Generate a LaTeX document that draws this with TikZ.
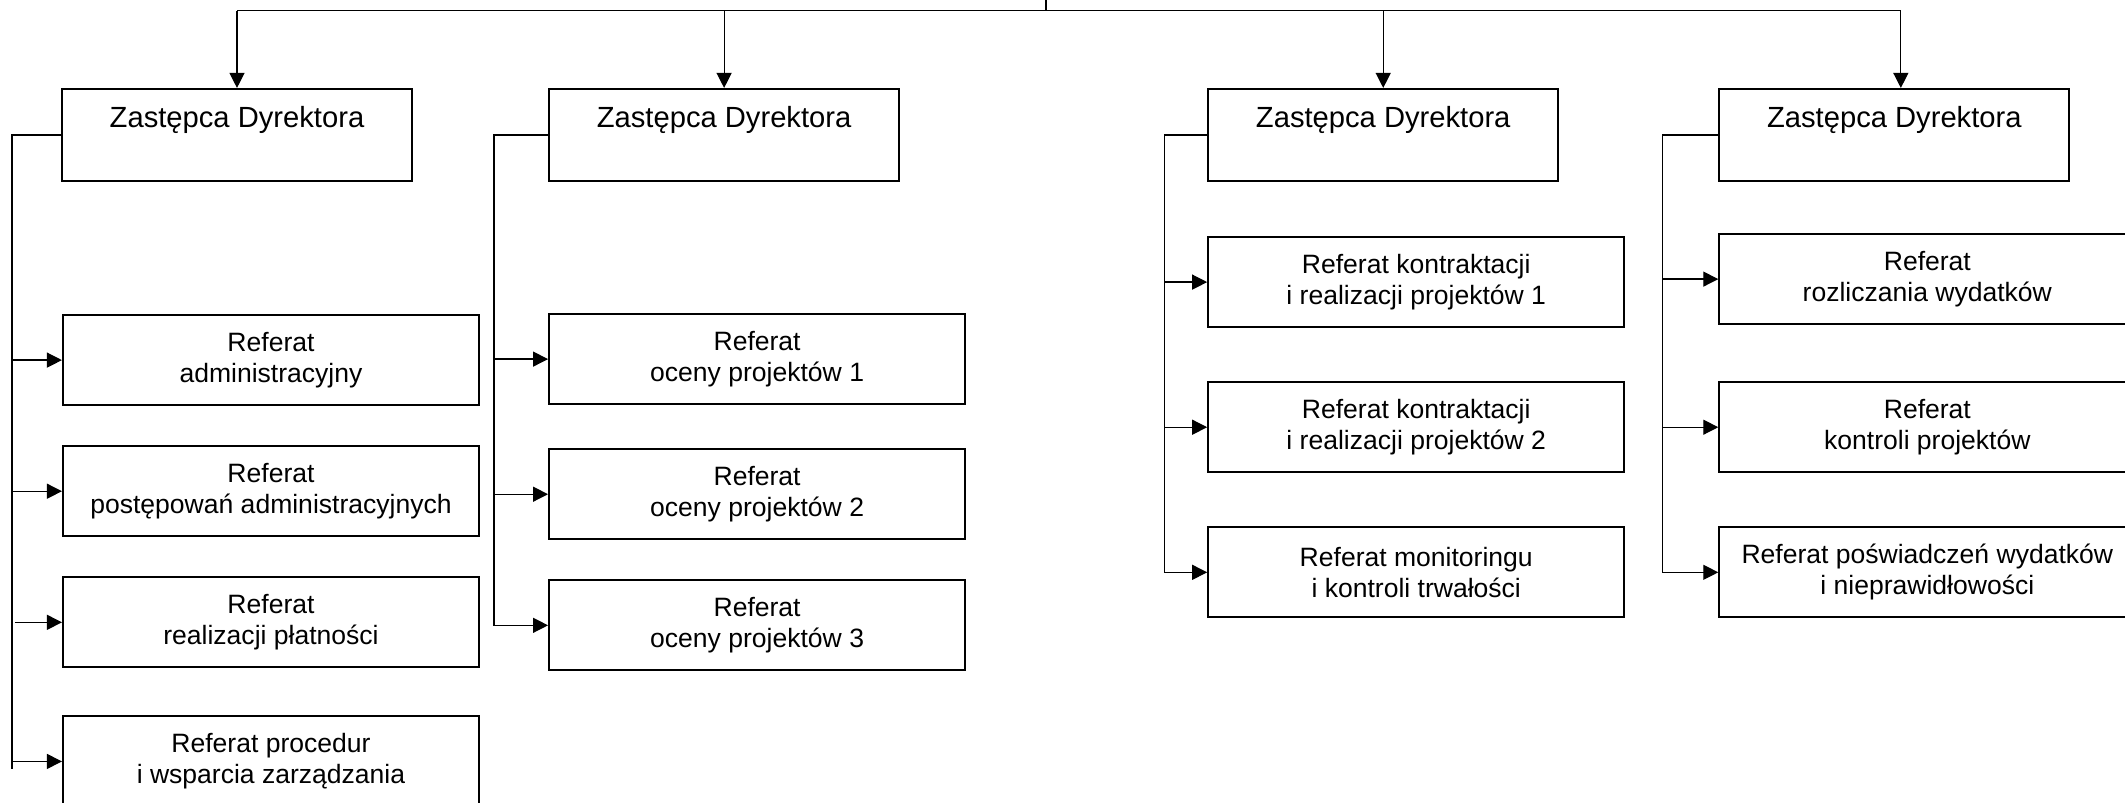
\documentclass[tikz,border=0pt]{standalone}
\usepackage{fontspec}
\setmainfont{Liberation Sans}
\usetikzlibrary{positioning, arrows.meta}

\begin{document}
\begin{tikzpicture}[box/.style = { draw, line width = 0.6pt, inner sep = 0pt, align = center },
    zd/.style = { box, minimum width = 3.50cm, minimum height = 0.92cm, text height = 0.21cm, text depth = 0.35cm, font = \fontsize{8.3}{9.5}\selectfont },
    ref/.style = { box, minimum width = 4.16cm, minimum height = 0.90cm, font = \fontsize{7.55}{8.8}\selectfont },
    line width = 0.35pt, >={Triangle[length = 1.5mm, width = 1.5mm]}]
    \useasboundingbox (0, 0) rectangle (21.25, -8.03);
    \clip (0, 0) rectangle (21.25, -8.03);

    \node[zd] (zd1) at (2.37, -1.35) {Zastępca Dyrektora};
    \node[zd, right = 1.35cm of zd1] (zd2) {Zastępca Dyrektora};
    \node[zd, right = 3.07cm of zd2] (zd3) {Zastępca Dyrektora};
    \node[zd, right = 1.59cm of zd3] (zd4) {Zastępca Dyrektora};

    \node[ref, below right = 1.32cm and 0.01cm of zd1.south west] (r11) {Referat\\administracyjny};
    \node[ref, below = 0.39cm of r11] (r12) {Referat\\postępowań administracyjnych};
    \node[ref, below = 0.39cm of r12] (r13) {Referat\\realizacji płatności};
    \node[ref, below = 0.47cm of r13] (r14) {Referat procedur\\i wsparcia zarządzania};

    \node[ref, below right = 1.31cm and 0cm of zd2.south west] (r21) {Referat\\oceny projektów 1};
    \node[ref, below = 0.43cm of r21] (r22) {Referat\\oceny projektów 2};
    \node[ref, below = 0.39cm of r22] (r23) {Referat\\oceny projektów 3};

    \node[ref, below right = 0.54cm and 0cm of zd3.south west] (r31) {Referat kontraktacji\\i realizacji projektów 1};
    \node[ref, below = 0.53cm of r31] (r32) {Referat kontraktacji\\i realizacji projektów 2};
    \node[ref, below = 0.53cm of r32] (r33) {Referat monitoringu\\i kontroli trwałości};

    \node[ref, below right = 0.51cm and 0cm of zd4.south west] (r41) {Referat\\rozliczania wydatków};
    \node[ref, below = 0.56cm of r41] (r42) {Referat\\kontroli projektów};
    \node[ref, below = 0.53cm of r42] (r43) {Referat poświadczeń wydatków\\i nieprawidłowości};

    \coordinate (dyr) at (10.46, 0.2);
    \coordinate (top) at (10.46, -0.107);
    \draw (dyr) -- (top);
    \draw (zd1.north |- top) -- ([xshift = 0.065cm]zd4.north |- top);
    \draw[->] (zd1.north |- top) -- (zd1.north);
    \draw[->] (zd2.north |- top) -- (zd2.north);
    \draw[->] (zd3.north |- top) -- (zd3.north);
    \draw[->] ([xshift = 0.065cm]zd4.north |- top) -- ([xshift = 0.065cm]zd4.north);

    \coordinate[left = 0.49cm of zd1.west] (s1);
    \draw (zd1.west) -- (s1) -- ([yshift = -0.08cm]s1 |- r14.west);
    \draw[->] (s1 |- r11.west) -- (r11.west);
    \draw[->] (s1 |- r12.west) -- (r12.west);
    \draw[->] ([xshift = 0.03cm]s1 |- r13.west) -- (r13.west);
    \draw[->] (s1 |- r14.west) -- (r14.west);

    \coordinate[left = 0.54cm of zd2.west] (s2);
    \draw[->] (zd2.west) -- (s2) |- (r23.west);
    \draw[->] (s2 |- r21.west) -- (r21.west);
    \draw[->] (s2 |- r22.west) -- (r22.west);

    \coordinate[left = 0.43cm of zd3.west] (s3);
    \draw[->] (zd3.west) -- (s3) |- (r33.west);
    \draw[->] (s3 |- r31.west) -- (r31.west);
    \draw[->] (s3 |- r32.west) -- (r32.west);

    \coordinate[left = 0.56cm of zd4.west] (s4);
    \draw[->] (zd4.west) -- (s4) |- (r43.west);
    \draw[->] (s4 |- r41.west) -- (r41.west);
    \draw[->] (s4 |- r42.west) -- (r42.west);
  \end{tikzpicture}
\end{document}
